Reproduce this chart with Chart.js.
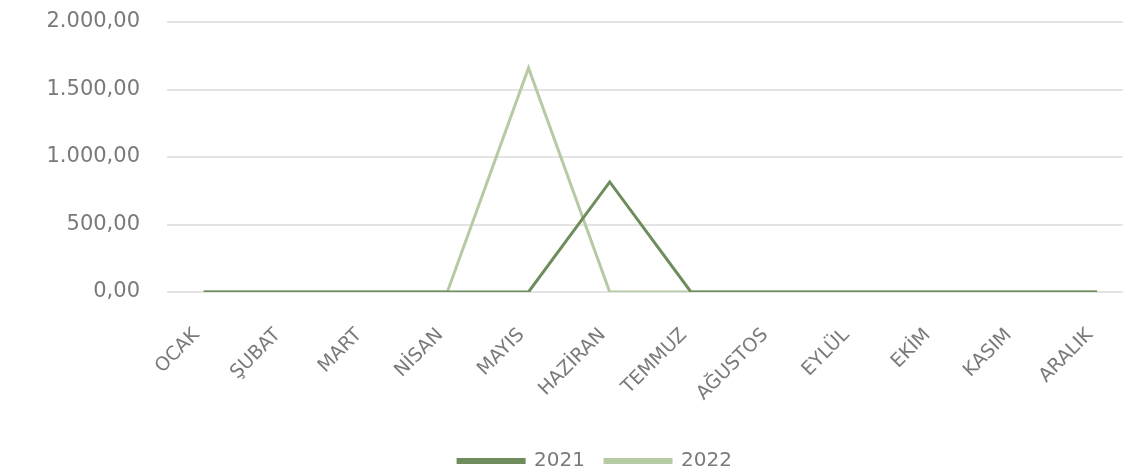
<!DOCTYPE html>
<html>
<head>
    <meta charset="utf-8">
    <title>2021 - 2022</title>
    <style>
        body {
            margin: 0;
            padding: 0;
            background-color: #ffffff;
        }
        .chart-container {
            width: 1123px;
            height: 472px;
        }
    </style>
    <script src="https://cdn.jsdelivr.net/npm/chart.js"></script>
</head>
<body>
    <div class="chart-container">
        <canvas id="lineChart"></canvas>
    </div>
    <script>
        // categories and values
        const months = ['OCAK', 'ŞUBAT', 'MART', 'NİSAN', 'MAYIS', 'HAZİRAN', 'TEMMUZ', 'AĞUSTOS', 'EYLÜL', 'EKİM', 'KASIM', 'ARALIK'];
        const values2021 = [0, 0, 0, 0, 0, 815, 0, 0, 0, 0, 0, 0];
        const values2022 = [0, 0, 0, 0, 1660, 0, 0, 0, 0, 0, 0, 0];
        const yTicks = [0, 500, 1000, 1500, 2000];

        const textColor = '#7a7a7a';

        function formatTr(v) {
            let parts = v.toFixed(2).split('.');
            let intPart = parts[0].replace(/\B(?=(\d{3})+(?!\d))/g, '.');
            return intPart + ',' + parts[1];
        }

        // the category axis in the original runs a bit past the right edge,
        // and the legend sits a little right of the page centre
        const nudge = {
            id: 'nudge',
            afterLayout: function(chart) {
                let x = chart.scales.x;
                x.left = x.left - 4;
                x.right = x.right + 15;
                x.configure();
                chart.legend.left = chart.legend.left + 30;
            }
        };

        new Chart(document.getElementById('lineChart'), {
            type: 'line',
            data: {
                labels: months,
                datasets: [{
                    label: '2021',
                    data: values2021,
                    borderColor: '#6f8c5c',
                    backgroundColor: '#6f8c5c',
                    borderWidth: 3,
                    pointRadius: 0,
                    tension: 0
                }, {
                    label: '2022',
                    data: values2022,
                    borderColor: '#b6caa4',
                    backgroundColor: '#b6caa4',
                    borderWidth: 3,
                    pointRadius: 0,
                    tension: 0
                }]
            },
            options: {
                responsive: true,
                maintainAspectRatio: false,
                animation: false,
                layout: {
                    padding: { left: 37, right: 0, top: 22, bottom: -9 }
                },
                plugins: {
                    tooltip: { enabled: false },
                    legend: {
                        position: 'bottom',
                        labels: {
                            color: textColor,
                            font: { family: 'DejaVu Sans', size: 20 },
                            boxWidth: 66,
                            boxHeight: 3,
                            padding: 20
                        }
                    }
                },
                scales: {
                    x: {
                        offset: true,
                        grid: { display: false },
                        border: { display: false },
                        ticks: {
                            color: textColor,
                            font: { family: 'DejaVu Sans', size: 19 },
                            minRotation: 45,
                            maxRotation: 45,
                            padding: 24,
                            labelOffset: -7
                        },
                        afterFit: function(scale) {
                            scale.height = 139;
                        }
                    },
                    y: {
                        min: 0,
                        max: 2000,
                        afterBuildTicks: function(scale) {
                            scale.ticks = yTicks.map(v => ({ value: v }));
                        },
                        grid: { color: '#e4e4e4', lineWidth: 2, drawTicks: false },
                        border: { display: false },
                        ticks: {
                            color: textColor,
                            font: { family: 'DejaVu Sans', size: 21 },
                            padding: 27,
                            callback: function(value) {
                                return formatTr(value);
                            }
                        },
                        afterFit: function(scale) {
                            scale.width = 130;
                            scale.paddingTop = 0;
                            scale.paddingBottom = 0;
                        }
                    }
                }
            },
            plugins: [nudge]
        });
    </script>
</body>
</html>
